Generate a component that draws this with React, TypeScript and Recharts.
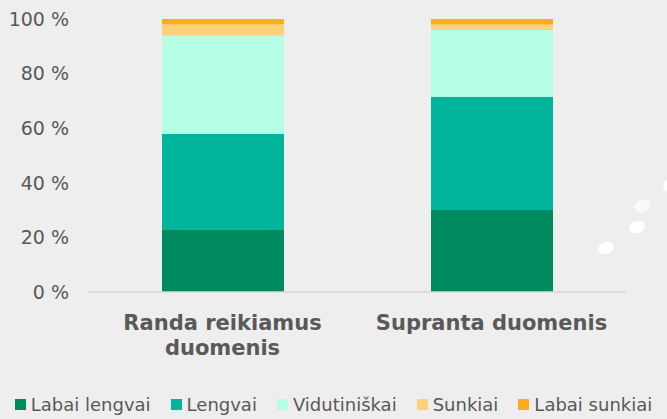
import React from "react";
import { BarChart, Bar, XAxis, YAxis, Legend } from "recharts";

const categories = ["Randa reikiamus duomenis", "Supranta duomenis"];
const labaiLengvai = [23, 30];
const lengvai = [35, 41.5];
const vidutiniskai = [36, 24.5];
const sunkiai = [4, 2];
const labaiSunkiai = [2, 2];
const yTicks = [0, 20, 40, 60, 80, 100];

const series = [
  { key: "labaiLengvai", name: "Labai lengvai", color: "#008a60" },
  { key: "lengvai", name: "Lengvai", color: "#00b59b" },
  { key: "vidutiniskai", name: "Vidutiniškai", color: "#b6fde6" },
  { key: "sunkiai", name: "Sunkiai", color: "#fdd07a" },
  { key: "labaiSunkiai", name: "Labai sunkiai", color: "#fdad1c" },
];

const data = categories.map((name, i) => ({
  name,
  labaiLengvai: labaiLengvai[i],
  lengvai: lengvai[i],
  vidutiniskai: vidutiniskai[i],
  sunkiai: sunkiai[i],
  labaiSunkiai: labaiSunkiai[i],
}));

const font = "'DejaVu Sans', Verdana, sans-serif";
const textColor = "#595959";

// greedy word wrap by character count
function wrap(label: string, maxChars: number) {
  const lines: string[] = [];
  let cur = "";
  for (const w of label.split(" ")) {
    const next = cur ? cur + " " + w : w;
    if (next.length > maxChars && cur) {
      lines.push(cur);
      cur = w;
    } else {
      cur = next;
    }
  }
  if (cur) lines.push(cur);
  return lines;
}

function CategoryTick(props: any) {
  const { x, y, payload } = props;
  const lines = wrap(payload.value, 17);
  return (
    <text
      x={x}
      y={y + 36}
      textAnchor="middle"
      fill={textColor}
      fontSize={21}
      fontWeight="bold"
      fontFamily={font}
    >
      {lines.map((l, i) => (
        <tspan key={i} x={x} dy={i === 0 ? 0 : 25}>
          {l}
        </tspan>
      ))}
    </text>
  );
}

function LegendContent() {
  return (
    <div
      style={{
        display: "flex",
        justifyContent: "center",
        alignItems: "flex-end",
        fontFamily: font,
        fontSize: 18,
        color: textColor,
        height: 45,
        paddingBottom: 4,
        boxSizing: "border-box",
        whiteSpace: "nowrap",
      }}
    >
      {series.map((s, i) => (
        <div
          key={s.key}
          style={{ display: "flex", alignItems: "center", flexShrink: 0, marginLeft: i === 0 ? 0 : 20 }}
        >
          <span style={{ width: 11, height: 11, background: s.color, marginRight: 5, display: "inline-block" }} />
          <span>{s.name}</span>
        </div>
      ))}
    </div>
  );
}

export default function App() {
  return (
    <div style={{ position: "absolute", left: 0, top: 0, width: 667, height: 419, background: "#eeeeee" }}>
      <BarChart width={667} height={419} data={data} margin={{ top: 19, right: 41, left: 0, bottom: 0 }}>
        <YAxis
          width={88}
          domain={[0, 100]}
          ticks={yTicks}
          tickFormatter={(v: number) => `${v} %`}
          axisLine={false}
          tickLine={false}
          tickSize={0}
          tickMargin={19}
          tick={{ fill: textColor, fontSize: 19, fontFamily: font }}
        />
        <XAxis
          dataKey="name"
          height={82}
          axisLine={{ stroke: "#d9d9d9", strokeWidth: 1.5 }}
          tickLine={false}
          tickSize={0}
          interval={0}
          tick={<CategoryTick />}
        />
        <Legend
          verticalAlign="bottom"
          height={45}
          content={<LegendContent />}
          wrapperStyle={{ bottom: 0, left: 0, width: 667 }}
        />
        {series.map((s) => (
          <Bar
            key={s.key}
            dataKey={s.key}
            name={s.name}
            stackId="a"
            fill={s.color}
            barSize={122}
            isAnimationActive={false}
          />
        ))}
      </BarChart>
      <svg width={667} height={419} style={{ position: "absolute", left: 0, top: 0, pointerEvents: "none" }}>
        <ellipse cx={606} cy={248} rx={8} ry={6} fill="#ffffff" transform="rotate(-20 606 248)" />
        <ellipse cx={637} cy={227} rx={8} ry={6} fill="#ffffff" transform="rotate(-20 637 227)" />
        <ellipse cx={642} cy={206} rx={8} ry={6} fill="#fafafa" transform="rotate(-20 642 206)" />
        <ellipse cx={668} cy={186} rx={5} ry={6} fill="#ffffff" />
      </svg>
    </div>
  );
}
